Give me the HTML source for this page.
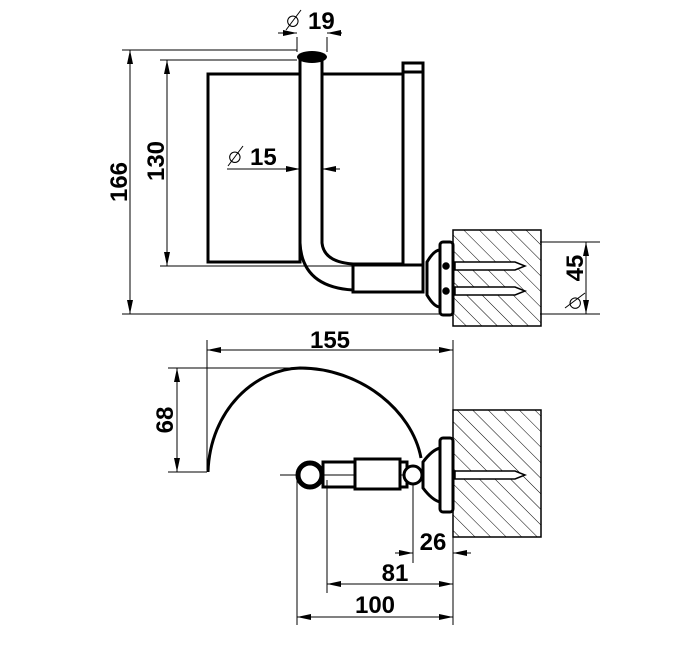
<!DOCTYPE html>
<html><head><style>html,body{margin:0;padding:0;background:#fff}svg{display:block}text{font-family:"Liberation Sans",sans-serif;font-weight:bold;font-size:24px;fill:#000}.d{font-weight:normal;font-size:26px}</style></head>
<body>
<svg width="695" height="655" viewBox="0 0 695 655" xmlns="http://www.w3.org/2000/svg">
<defs>
<marker id="a" viewBox="0 0 14 6" refX="14" refY="3" markerWidth="14" markerHeight="6" orient="auto-start-reverse" markerUnits="userSpaceOnUse"><path d="M0,0L14,3L0,6z"/></marker>
<pattern id="h" width="11" height="11" patternUnits="userSpaceOnUse" patternTransform="rotate(-45)"><line x1="0" y1="0" x2="0" y2="11" stroke="#000" stroke-width="1"/></pattern>
</defs>
<g fill="none" stroke="#000" stroke-width="1">
<line x1="122" y1="50" x2="297" y2="50"/>
<line x1="160" y1="60" x2="297" y2="60"/>
<line x1="160" y1="266" x2="353" y2="266"/>
<line x1="122" y1="314" x2="453" y2="314"/>
<line x1="130" y1="50" x2="130" y2="314" marker-start="url(#a)" marker-end="url(#a)"/>
<line x1="167" y1="60" x2="167" y2="266" marker-start="url(#a)" marker-end="url(#a)"/>
<line x1="297" y1="37" x2="297" y2="52"/><line x1="327" y1="37" x2="327" y2="52"/>
<line x1="278" y1="33" x2="297" y2="33" marker-end="url(#a)"/><line x1="342" y1="33" x2="327" y2="33" marker-end="url(#a)"/>
<line x1="227" y1="169" x2="300" y2="169" marker-end="url(#a)"/><line x1="340" y1="169" x2="322" y2="169" marker-end="url(#a)"/>
<line x1="540" y1="242" x2="600" y2="242"/><line x1="540" y1="314" x2="600" y2="314"/>
<line x1="586" y1="242" x2="586" y2="314" marker-start="url(#a)" marker-end="url(#a)"/>
<line x1="286" y1="30" x2="301" y2="10"/><line x1="228" y1="166" x2="243" y2="146"/>
<line x1="565" y1="308" x2="585" y2="293"/>
</g>
<g fill="none" stroke="#000" stroke-width="3">
<rect x="208" y="74" width="92" height="188"/>
<line x1="322" y1="74" x2="403" y2="74"/>
<path d="M300,58 V243 Q302,287 353,290"/>
<path d="M322,58 V243 Q324,262 353,264 H403"/>
<rect x="403" y="63" width="20" height="202"/>
<line x1="403" y1="72" x2="423" y2="72"/>
<rect x="353" y="265" width="70" height="27"/>
<rect x="440" y="242" width="13" height="73" rx="3"/>
<path d="M427,262 Q434,250 440,250 V307 Q434,307 427,295 Z"/>
</g>
<ellipse cx="312" cy="57" rx="15" ry="6" fill="#000"/>
<rect x="453" y="230" width="88" height="96" fill="url(#h)" stroke="#000" stroke-width="1.5"/>
<g stroke="#000" fill="#fff" stroke-width="1.5">
<path d="M455,262 H515 L525,266 L515,270 H455Z"/><path d="M455,287 H515 L525,291 L515,295 H455Z"/>
<circle cx="446" cy="266" r="3" fill="#000"/><circle cx="446" cy="291" r="3" fill="#000"/>
</g>
<text x="285" y="29"><tspan class="d">○</tspan></text>
<text x="308" y="29">19</text>
<text x="227" y="165"><tspan class="d">○</tspan></text>
<text x="250" y="165">15</text>
<text transform="translate(127,182) rotate(-90)" text-anchor="middle">166</text>
<text transform="translate(164,161) rotate(-90)" text-anchor="middle">130</text>
<text transform="translate(583,311) rotate(-90)"><tspan class="d">○</tspan></text>
<text transform="translate(583,268) rotate(-90)" text-anchor="middle">45</text>
<g fill="none" stroke="#000" stroke-width="1">
<line x1="207" y1="340" x2="207" y2="470"/><line x1="453" y1="340" x2="453" y2="410"/>
<line x1="207" y1="350" x2="453" y2="350" marker-start="url(#a)" marker-end="url(#a)"/>
<line x1="168" y1="368" x2="300" y2="368"/><line x1="168" y1="472" x2="207" y2="472"/>
<line x1="177" y1="368" x2="177" y2="472" marker-start="url(#a)" marker-end="url(#a)"/>
<line x1="280" y1="475" x2="413" y2="475"/>
<line x1="297" y1="475" x2="297" y2="625"/><line x1="327" y1="480" x2="327" y2="593"/><line x1="413" y1="475" x2="413" y2="563"/><line x1="453" y1="537" x2="453" y2="625"/>
<line x1="395" y1="553" x2="413" y2="553" marker-end="url(#a)"/><line x1="471" y1="553" x2="453" y2="553" marker-end="url(#a)"/>
<line x1="327" y1="584" x2="453" y2="584" marker-start="url(#a)" marker-end="url(#a)"/>
<line x1="297" y1="617" x2="453" y2="617" marker-start="url(#a)" marker-end="url(#a)"/>
</g>
<g fill="none" stroke="#000" stroke-width="3">
<path d="M208,472 C210,410 255,369 300,368 C360,368 412,410 421,458"/>
<rect x="323" y="462" width="84" height="25"/>
<rect x="355" y="459" width="45" height="30" fill="#fff"/>
<circle cx="310" cy="475" r="12" fill="#fff" stroke-width="5"/>
<circle cx="413" cy="475" r="9" fill="#fff"/>
<rect x="440" y="438" width="13" height="74" rx="3"/>
<path d="M423,462 Q432,450 440,448 V502 Q432,500 423,488 Z"/>
</g>
<rect x="453" y="410" width="88" height="127" fill="url(#h)" stroke="#000" stroke-width="1.5"/>
<path d="M455,471 H515 L525,475 L515,479 H455Z" stroke="#000" fill="#fff" stroke-width="1.5"/>
<text x="330" y="348" text-anchor="middle">155</text>
<text transform="translate(173,420) rotate(-90)" text-anchor="middle">68</text>
<text x="433" y="550" text-anchor="middle">26</text>
<text x="395" y="581" text-anchor="middle">81</text>
<text x="375" y="613" text-anchor="middle">100</text>
</svg>
</body></html>
